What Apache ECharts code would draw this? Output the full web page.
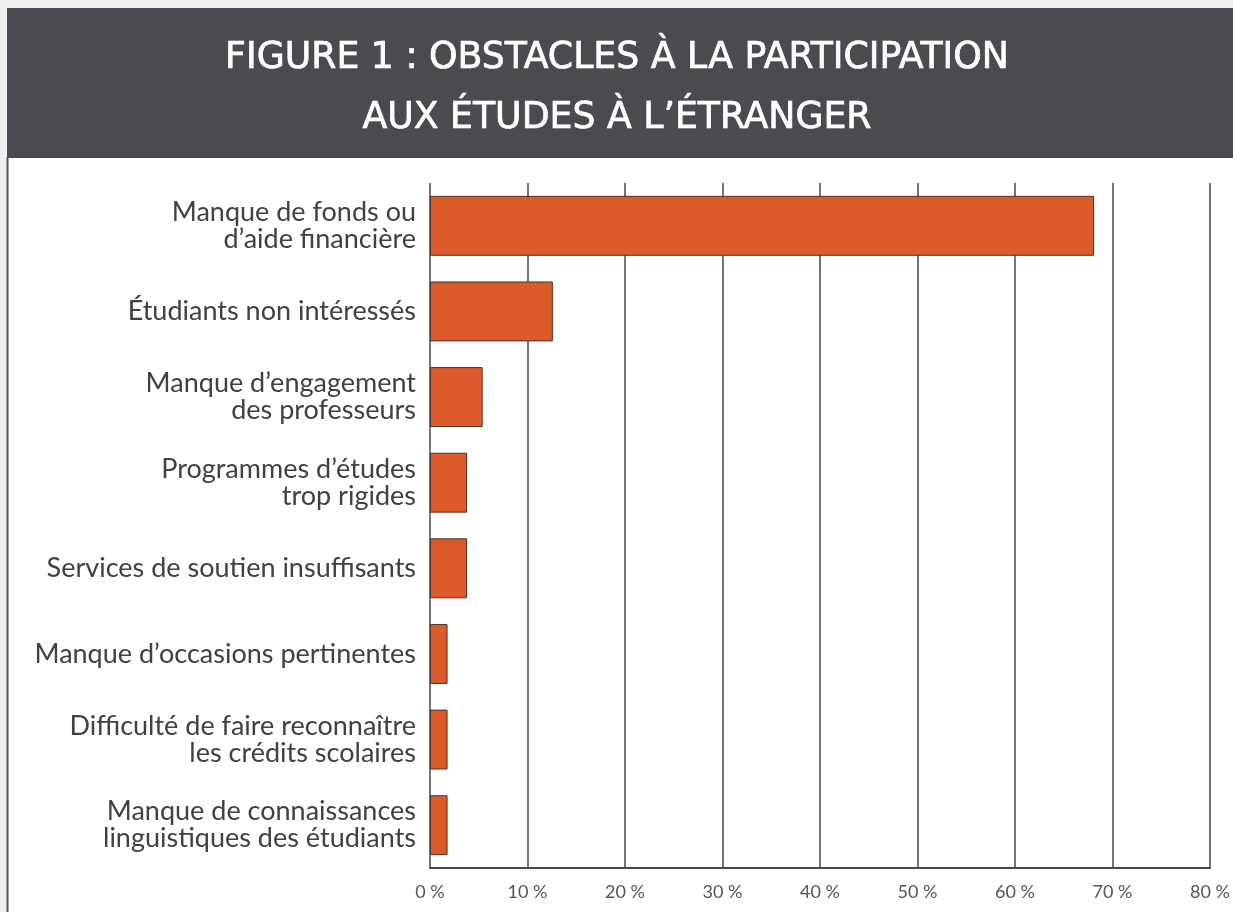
<!DOCTYPE html>
<html>
<head>
<meta charset="utf-8">
<script src="https://cdn.jsdelivr.net/npm/echarts@6/dist/echarts.min.js"></script>
<style>
  html, body { margin: 0; padding: 0; background: #efefef; }
  #main { width: 1233px; height: 912px; }
</style>
</head>
<body>
<div id="main"></div>
<script>
// categories, top to bottom
var categories = [
    'Manque de fonds ou\nd\u2019aide financi\u00e8re',
    '\u00c9tudiants non int\u00e9ress\u00e9s',
    'Manque d\u2019engagement\ndes professeurs',
    'Programmes d\u2019\u00e9tudes\ntrop rigides',
    'Services de soutien insuffisants',
    'Manque d\u2019occasions pertinentes',
    'Difficult\u00e9 de faire reconna\u00eetre\nles cr\u00e9dits scolaires',
    'Manque de connaissances\nlinguistiques des \u00e9tudiants'
];
var values = [68.1, 12.6, 5.4, 3.8, 3.8, 1.8, 1.8, 1.8];
var xTicks = [0, 10, 20, 30, 40, 50, 60, 70, 80];

var myChart = echarts.init(document.getElementById('main'));

var option = {
    backgroundColor: '#efefef',
    animation: false,
    graphic: [
        // white panel
        { type: 'rect', shape: { x: 7, y: 157, width: 1226, height: 755 },
          style: { fill: '#ffffff', stroke: null }, z: -10 },
        { type: 'line', shape: { x1: 7.5, y1: 157, x2: 7.5, y2: 912 },
          style: { stroke: '#55555c', lineWidth: 2 }, z: -9 },
        // dark header
        { type: 'rect', shape: { x: 7, y: 8, width: 1226, height: 150 },
          style: { fill: '#4a4a51' }, z: -8 },
        { type: 'text', x: 617, y: 28, scaleX: 1.06,
          style: {
              text: 'FIGURE 1 : OBSTACLES \u00c0 LA PARTICIPATION\nAUX \u00c9TUDES \u00c0 L\u2019\u00c9TRANGER',
              fill: '#ffffff', stroke: '#ffffff', lineWidth: 0.7,
              font: '38px "DejaVu Sans Condensed", sans-serif',
              textAlign: 'center', textVerticalAlign: 'top', lineHeight: 60
          }, z: 5 }
    ],
    grid: { left: 430, right: 17, top: 183, bottom: 44, containLabel: false },
    xAxis: {
        type: 'value',
        min: 0, max: 80, interval: 10,
        axisLine: { show: true, onZero: false, lineStyle: { color: '#47474d', width: 2 } },
        axisTick: { show: false },
        splitLine: { show: true, lineStyle: { color: '#47474d', width: 1.5 } },
        axisLabel: {
            color: '#555',
            fontSize: 18,
            fontFamily: 'Lato, sans-serif',
            margin: 15,
            formatter: function (v) { return xTicks.indexOf(v) >= 0 ? v + ' %' : ''; }
        }
    },
    yAxis: {
        type: 'category',
        inverse: true,
        data: categories,
        axisLine: { show: false },
        axisTick: { show: false },
        axisLabel: {
            color: '#404045',
            fontSize: 27,
            lineHeight: 27,
            fontFamily: 'Lato, "Noto Sans", sans-serif',
            margin: 14,
            align: 'right'
        }
    },
    series: [{
        type: 'bar',
        data: values,
        barCategoryGap: '30%',
        itemStyle: { color: '#dd5a2b', borderColor: '#4a3328', borderWidth: 1 }
    }]
};

myChart.setOption(option);
</script>
</body>
</html>
